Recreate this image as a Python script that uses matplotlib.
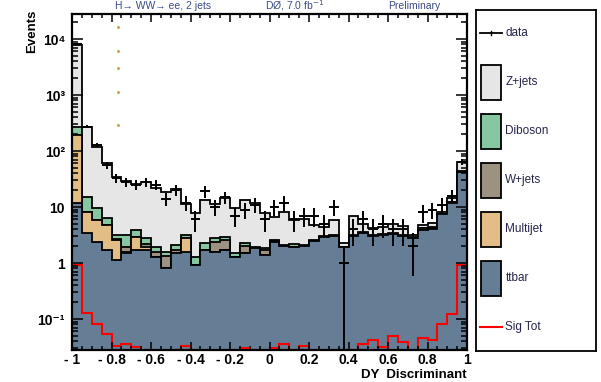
import matplotlib
matplotlib.use('Agg')
import matplotlib.pyplot as plt
from matplotlib.patches import Rectangle
from matplotlib.lines import Line2D
import numpy as np

plt.rcParams['font.family'] = ['Liberation Sans', 'DejaVu Sans']

# 40 bins of the DY discriminant
edges = np.linspace(-1, 1, 41)

ttbar = [12, 3.4, 2.4, 1.7, 1.13, 1.5, 1.7, 1.7, 1.3, 0.8,
         1.5, 1.6, 0.92, 1.7, 1.6, 1.7, 1.3, 1.5, 1.83, 1.39,
         2.4, 2.0, 1.95, 2.0, 2.45, 2.9, 3.0, 1.9, 3.0, 3.5,
         3.0, 3.2, 3.3, 3.0, 2.8, 3.9, 4.0, 7.4, 12.0, 42]
multijet = [182, 4.8, 3.45, 3.06, 1.44, 0.05, 1.2, 0.2, 0, 0,
            0, 1.16, 0, 0, 0, 0, 0, 0, 0, 0,
            0, 0, 0, 0, 0, 0, 0, 0, 0, 0,
            0, 0, 0, 0, 0, 0, 0, 0, 0, 0]
wjets = [0, 0, 0, 0, 0.1, 0.4, 0, 0.3, 0.3, 0.53,
         0.2, 0, 0, 0, 0.8, 0.87, 0, 0.5, 0, 0.3,
         0.05, 0, 0, 0, 0, 0, 0, 0, 0, 0,
         0, 0, 0, 0, 0, 0.3, 0.3, 0.1, 0.2, 1.0]
diboson = [78, 7.1, 3.75, 1.64, 0.5, 1.2, 1.0, 0.55, 0.35, 0.27,
           0.4, 0.4, 0.38, 0.55, 0.36, 0.38, 0.2, 0.25, 0.1, 0.14,
           0.12, 0.1, 0.21, 0.1, 0.12, 0.1, 0.16, 0.05, 0.16, 0.1,
           0.16, 0.1, 0.1, 0.16, 0.1, 0.05, 0.1, 0.1, 0.2, 1.0]
zjets = [7500, 257, 109, 54.6, 31, 26, 22, 25, 19.5, 17,
         18.6, 8.4, 6.4, 11, 8.8, 11.3, 8.0, 11, 9.7, 5.9,
         4.2, 6.2, 3.7, 3.9, 2.2, 1.45, 2.65, 0.3, 3.85, 1.4,
         1.05, 1.1, 1.5, 1.35, 0.26, 0.55, 0.8, 0.5, 1.9, 21]
data = [8200, 270, 128, 56, 33, 28, 25, 28, 25, 14,
        20, 12, 6, 19, 10, 15, 7, 9, 11, 6,
        10, 12, 6, 7, 7, 5, 10, 1, 4, 6,
        4, 5, 4, 4, 2, 8, 9, 11, 16, 65]
sig_tot = [0.92, 0.127, 0.081, 0.054, 0.033, 0.036, 0.032, 0.02, 0.02, 0.02,
           0.02, 0.033, 0.02, 0.02, 0.02, 0.02, 0.02, 0.030, 0.02, 0.02,
           0.030, 0.036, 0.02, 0.033, 0.02, 0.02, 0.02, 0.02, 0.02, 0.036,
           0.042, 0.032, 0.050, 0.039, 0.02, 0.045, 0.042, 0.081, 0.122, 0.92]

# stray orange dots above the -0.8 bin
stray_x = [-0.765, -0.765, -0.765, -0.765, -0.765]
stray_y = [16600, 6100, 3100, 1150, 290]

names = ['ttbar', 'Multijet', 'W+jets', 'Diboson', 'Z+jets']
colors = ['#667e95', '#e2bd86', '#9d9182', '#86c6a0', '#e6e6e6']
xtick_labels = ['- 1', '- 0.8', '- 0.6', '- 0.4', '- 0.2', '0', '0.2', '0.4', '0.6', '0.8', '1']
ytick_vals = [0.1, 1, 10, 100, 1000, 10000]
ytick_labels = ['10\u207b\u00b9', '1', '10', '10\u00b2', '10\u00b3', '10\u2074']

fig = plt.figure(figsize=(6.01, 3.82), dpi=100)
ax = fig.add_axes([72 / 601, 1 - 350 / 382, 395 / 601, 336 / 382])

stack = np.cumsum([ttbar, multijet, wjets, diboson, zjets], axis=0)
for i in range(4, -1, -1):
    ax.stairs(stack[i], edges, baseline=1e-3, fill=True,
              facecolor=colors[i], edgecolor='black', linewidth=1.3)

ax.stairs(sig_tot, edges, color='red', linewidth=1.5)

data = np.array(data, dtype=float)
centers = 0.5 * (edges[:-1] + edges[1:])
err = np.sqrt(data)
low = np.minimum(err, data - 1e-3)
ax.errorbar(centers, data, xerr=0.025, yerr=[low, err], fmt='none',
            ecolor='black', elinewidth=1.4, capsize=0, zorder=5)

ax.plot(stray_x, stray_y, ls='none', marker='.', ms=2.5, color='#d9a25a')

ax.set_yscale('log')
ax.set_xlim(-1, 1)
ax.set_ylim(0.028, 2.8e4)
ax.set_xticks(np.linspace(-1, 1, 11))
ax.set_xticks(np.linspace(-1, 1, 41), minor=True)
ax.set_xticklabels(xtick_labels, fontsize=10, fontweight='bold')
ax.set_yticks(ytick_vals)
ax.set_yticklabels(ytick_labels, fontsize=10, fontweight='bold')
ax.tick_params(which='both', direction='in', top=True, right=True, width=1.1)
ax.tick_params(axis='x', which='major', length=6, pad=2)
ax.tick_params(axis='x', which='minor', length=3)
ax.tick_params(axis='y', which='major', length=8, pad=5)
ax.tick_params(axis='y', which='minor', length=4)
for s in ax.spines.values():
    s.set_linewidth(1.6)

fig.text(467 / 601, 1 - 381 / 382, 'DY  Discriminant', ha='right', va='bottom',
         fontsize=9.5, fontweight='bold')
fig.text(32 / 601, 1 - 10 / 382, 'Events', rotation=90, ha='center', va='top',
         fontsize=9.5, fontweight='bold')

tcol = '#3b4a86'
fig.text(115 / 601, 1 - 6 / 382, 'H\u2192 WW\u2192 ee, 2 jets', ha='left', va='center',
         fontsize=7.5, color=tcol)
fig.text(265 / 601, 1 - 6 / 382, 'D\u00d8, 7.0 fb$^{-1}$', ha='left', va='center',
         fontsize=7.5, color=tcol)
fig.text(388 / 601, 1 - 6 / 382, 'Preliminary', ha='left', va='center',
         fontsize=7.5, color=tcol)

# legend box drawn by hand
lg = fig.add_axes([476 / 601, 1 - 351 / 382, 120 / 601, 341 / 382])
lg.set_xticks([])
lg.set_yticks([])
lg.set_xlim(0, 1)
lg.set_ylim(0, 1)
for s in lg.spines.values():
    s.set_linewidth(1.3)

entries = ['data', 'Z+jets', 'Diboson', 'W+jets', 'Multijet', 'ttbar', 'Sig Tot']
box_colors = [None, colors[4], colors[3], colors[2], colors[1], colors[0], None]
step = 49 / 341
top = (351 - 33) / 341
for k, lab in enumerate(entries):
    yc = top - k * step
    if lab == 'data':
        lg.add_line(Line2D([0.035, 0.215], [yc, yc], color='black', lw=1.3))
        lg.add_line(Line2D([0.125, 0.125], [yc - 0.006, yc + 0.006], color='black', lw=1.0))
    elif lab == 'Sig Tot':
        lg.add_line(Line2D([0.035, 0.215], [yc, yc], color='red', lw=1.5))
    else:
        h = 35 / 341
        lg.add_patch(Rectangle((0.042, yc - h / 2), 0.166, h,
                               facecolor=box_colors[k], edgecolor='black', lw=1.3))
    lg.text(0.245, yc, lab, ha='left', va='center', fontsize=8.5, color='#24244a')

fig.savefig('out.png', dpi=100)
